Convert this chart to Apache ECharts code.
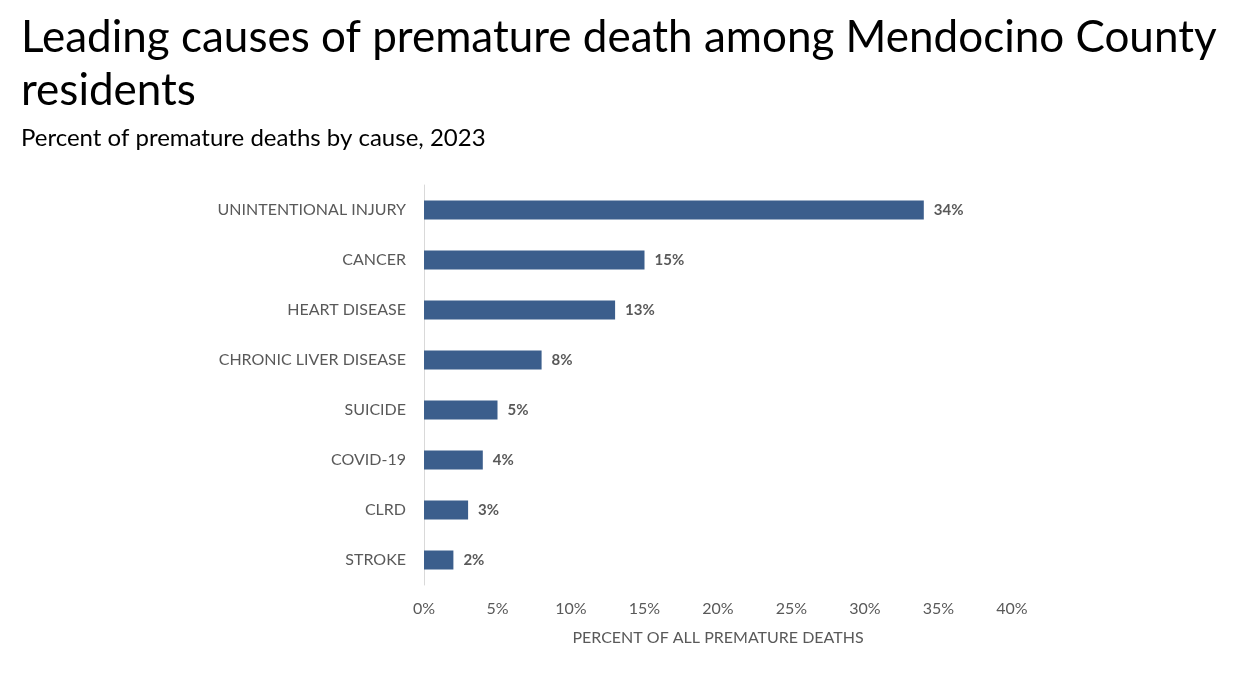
<!DOCTYPE html>
<html>
<head>
<meta charset="utf-8">
<script src="https://cdn.jsdelivr.net/npm/echarts@6/dist/echarts.min.js"></script>
<style>
html,body{margin:0;padding:0;background:#fff;}
#main{width:1252px;height:675px;}
</style>
</head>
<body>
<div id="main"></div>
<script>
const categories = ['UNINTENTIONAL INJURY','CANCER','HEART DISEASE','CHRONIC LIVER DISEASE','SUICIDE','COVID-19','CLRD','STROKE'];
const values = [34, 15, 13, 8, 5, 4, 3, 2];
const xTicks = [0, 5, 10, 15, 20, 25, 30, 35, 40];

const chart = echarts.init(document.getElementById('main'));
chart.setOption({
  backgroundColor: '#ffffff',
  animation: false,
  title: {
    text: 'Leading causes of premature death among Mendocino County\nresidents',
    subtext: 'Percent of premature deaths by cause, 2023',
    left: 16,
    top: 6,
    itemGap: 8,
    textStyle: { fontFamily: 'Lato', fontSize: 44, fontWeight: 'normal', color: '#000', lineHeight: 53 },
    subtextStyle: { fontFamily: 'Lato', fontSize: 24, color: '#000', lineHeight: 26 }
  },
  grid: { left: 424, right: 240, top: 185, bottom: 90, containLabel: false },
  xAxis: {
    type: 'value',
    min: xTicks[0],
    max: xTicks[xTicks.length - 1],
    interval: 5,
    axisLine: { show: false },
    axisTick: { show: false },
    splitLine: { show: false },
    axisLabel: { formatter: '{value}%', color: '#595959', fontFamily: 'Lato', fontSize: 16, margin: 16 },
    name: 'PERCENT OF ALL PREMATURE DEATHS',
    nameLocation: 'middle',
    nameGap: 45,
    nameTextStyle: { color: '#595959', fontFamily: 'Lato', fontSize: 16 }
  },
  yAxis: {
    type: 'category',
    data: categories,
    inverse: true,
    axisLine: { show: true, lineStyle: { color: '#d9d9d9', width: 1 } },
    axisTick: { show: false },
    axisLabel: { color: '#595959', fontFamily: 'Lato', fontSize: 16, margin: 18 }
  },
  series: [{
    type: 'bar',
    data: values,
    barWidth: 19,
    itemStyle: { color: '#3b5e8c' },
    label: {
      show: true,
      position: 'right',
      distance: 10,
      formatter: '{c}%',
      color: '#595959',
      fontFamily: 'Lato',
      fontWeight: 'bold',
      fontSize: 15
    }
  }]
});
</script>
</body>
</html>
